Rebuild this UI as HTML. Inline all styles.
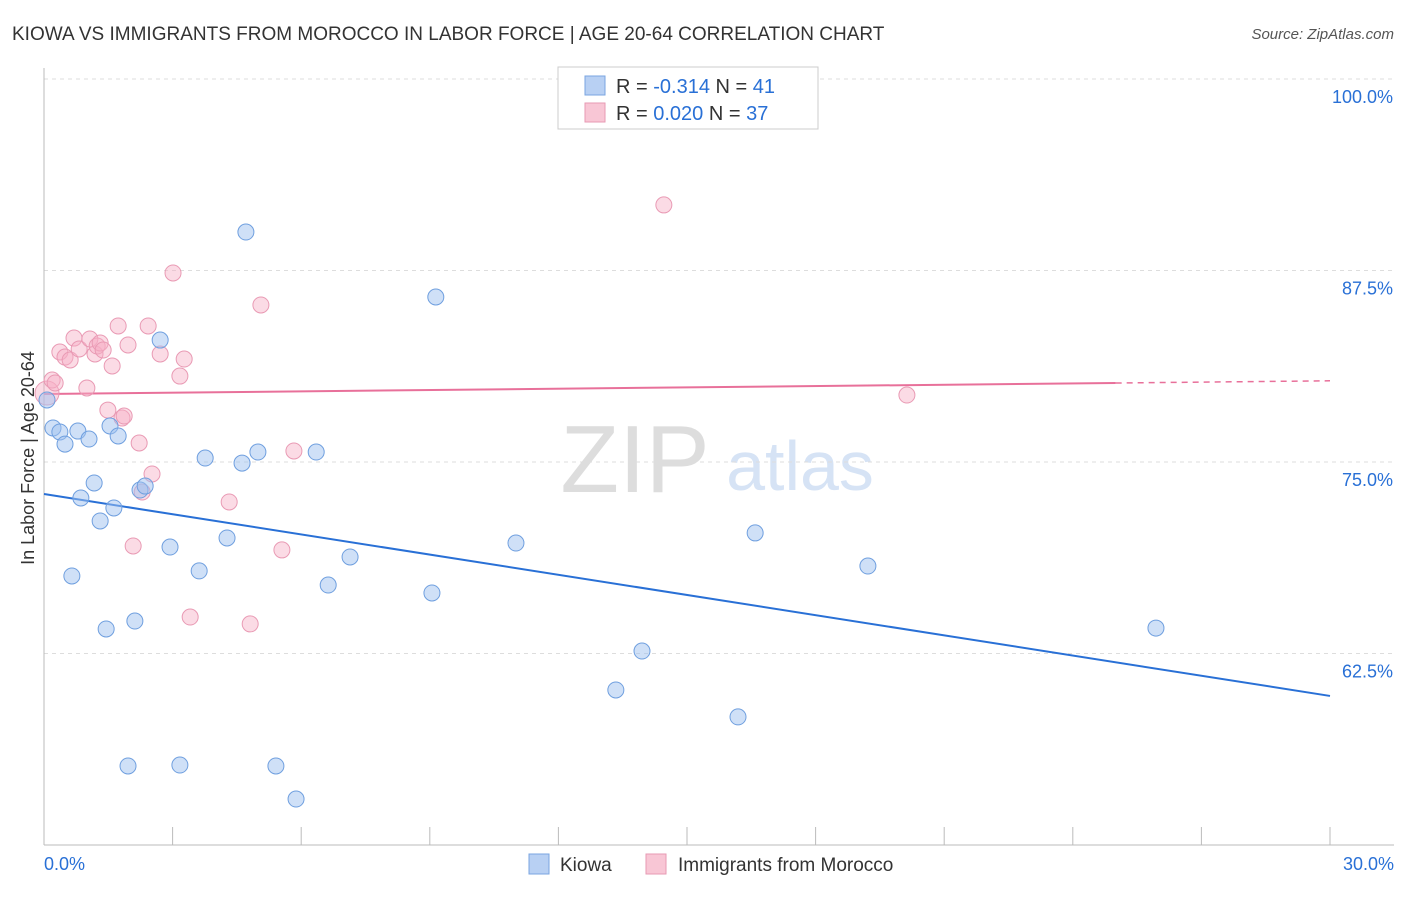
<!DOCTYPE html>
<html><head><meta charset="utf-8"><style>
body{margin:0;background:#fff;font-family:"Liberation Sans",sans-serif;}
svg text{font-family:"Liberation Sans",sans-serif;}
</style></head><body>
<svg id="c" width="1406" height="892" xmlns="http://www.w3.org/2000/svg">
<text x="12" y="40" font-size="19" fill="#333">KIOWA VS IMMIGRANTS FROM MOROCCO IN LABOR FORCE | AGE 20-64 CORRELATION CHART</text>
<text x="1394" y="39" font-size="15" fill="#555" text-anchor="end" font-style="italic">Source: ZipAtlas.com</text>
<text x="635" y="492" font-size="96" fill="#ddd" text-anchor="middle" font-family="Liberation Serif">ZIP</text>
<text x="800" y="490" font-size="70" fill="#d6e3f5" text-anchor="middle">atlas</text>
<g id="grid"></g><g id="axes"></g><g id="trend"></g><g id="pts"></g>
<text transform="translate(34,458) rotate(-90)" font-size="18" fill="#333" text-anchor="middle">In Labor Force | Age 20-64</text>
<g>
<rect x="558" y="67" width="260" height="62" fill="#fff" stroke="#ccc"/>
<rect x="585" y="76" width="20" height="19" fill="#b8d0f3" stroke="#7aa5e0"/>
<rect x="585" y="103" width="20" height="19" fill="#f8c6d5" stroke="#e79ab3"/>
<text x="616" y="93" font-size="20" fill="#333">R = <tspan fill="#2970d6">-0.314</tspan>   N = <tspan fill="#2970d6">41</tspan></text>
<text x="616" y="120" font-size="20" fill="#333">R = <tspan fill="#2970d6"> 0.020</tspan>   N = <tspan fill="#2970d6">37</tspan></text>
</g>
<g>
<rect x="529" y="854" width="20" height="20" fill="#b8d0f3" stroke="#7aa5e0"/>
<text x="560" y="871" font-size="19" fill="#333">Kiowa</text>
<rect x="646" y="854" width="20" height="20" fill="#f8c6d5" stroke="#e79ab3"/>
<text x="678" y="871" font-size="19" fill="#333">Immigrants from Morocco</text>
</g>
</svg>
<script>
const yTicks=[100,87.5,75,62.5];
const yTickLabels=["100.0%","87.5%","75.0%","62.5%"];
const xTickLabels=["0.0%","30.0%"];
const kiowaX=[0.07,0.21,0.37,0.49,0.79,1.05,0.65,0.86,1.17,1.31,1.45,1.54,1.63,1.73,1.96,2.12,2.24,2.36,2.71,2.94,3.17,3.62,3.76,4.27,4.62,4.71,4.99,5.41,5.88,6.35,6.63,7.14,9.05,9.14,11.01,13.34,13.95,16.19,16.59,19.22,25.94];
const kiowaY=[79.05,77.22,76.96,76.17,77.02,76.5,67.56,72.65,73.63,71.15,64.1,77.35,72.0,76.7,55.16,64.62,73.17,73.43,82.96,69.45,55.22,67.89,75.26,70.04,74.93,90.01,75.65,55.16,53.0,75.65,66.97,68.8,66.45,85.77,69.71,60.12,62.66,58.36,70.37,68.21,64.16];
const morX=[0.07,0.19,0.26,0.37,0.49,0.61,0.7,0.82,1.0,1.07,1.19,1.24,1.31,1.38,1.49,1.59,1.73,1.82,1.87,1.96,2.08,2.22,2.29,2.43,2.52,2.71,3.01,3.17,3.27,3.41,4.32,4.81,5.06,5.55,5.83,14.46,20.13];
const morY=[79.5,80.35,80.16,82.18,81.85,81.66,83.09,82.38,79.83,83.03,82.05,82.57,82.77,82.31,78.39,81.27,83.88,77.87,78.0,82.64,69.52,76.24,73.04,83.88,74.22,82.05,87.34,80.61,81.72,64.88,72.39,64.43,85.25,69.26,75.72,91.78,79.37];
const kiowaTrend=[72.91,59.73];
const morTrend=[79.44,80.3];
const X=v=>44+v/30*1286, Y=v=>845-(v-50)*15.32;
const NS="http://www.w3.org/2000/svg";
function mk(t,p,a){const e=document.createElementNS(NS,t);for(const k in a)e.setAttribute(k,a[k]);p.appendChild(e);return e;}
const grid=document.getElementById('grid'),axes=document.getElementById('axes'),tr=document.getElementById('trend'),pts=document.getElementById('pts');
yTicks.forEach((v,i)=>{
 const l=mk('line',grid,{x1:44,x2:1394,y1:Y(v),y2:Y(v),stroke:'#ddd','stroke-dasharray':'4,4'});
 
 
 const t=mk('text',grid,{x:1393,y:Y(v)+24,'font-size':18,fill:'#2970d6','text-anchor':'end'});t.textContent=yTickLabels[i];
 
 
});
const ax=mk('line',axes,{x1:44,x2:44,y1:68,y2:845,stroke:'#bbb'});


const bx=mk('line',axes,{x1:44,x2:1394,y1:845,y2:845,stroke:'#bbb'});


for(let v=0;v<=30;v+=3){const t=mk('line',axes,{x1:X(v),x2:X(v),y1:827,y2:845,stroke:'#bbb'});
 
 }
[[0,'start',44],[30,'end',1394]].forEach((d,i)=>{const t=mk('text',axes,{x:d[2],y:870,'font-size':18,fill:'#2970d6','text-anchor':d[1]});t.textContent=xTickLabels[i];
 
 });
const bl=mk('line',tr,{x1:X(0),y1:Y(kiowaTrend[0]),x2:X(30),y2:Y(kiowaTrend[1]),stroke:'#2970d6','stroke-width':2});


const pm=morTrend[0]+(morTrend[1]-morTrend[0])*25/30;
const pl=mk('line',tr,{x1:X(0),y1:Y(morTrend[0]),x2:X(25),y2:Y(pm),stroke:'#e8709a','stroke-width':2});


const pd=mk('line',tr,{x1:X(25),y1:Y(pm),x2:X(30),y2:Y(morTrend[1]),stroke:'#e8709a','stroke-width':1.5,'stroke-dasharray':'6,5'});


morX.forEach((x,i)=>{const c=mk('circle',pts,{cx:X(x),cy:Y(morY[i]),r:i==0?12:8,fill:'rgba(246,176,198,0.45)',stroke:'#e99ab4','stroke-width':1});
 
 });
kiowaX.forEach((x,i)=>{const c=mk('circle',pts,{cx:X(x),cy:Y(kiowaY[i]),r:8,fill:'rgba(160,194,240,0.5)',stroke:'#6f9fdf','stroke-width':1});
 
 });
</script>
</body></html>
